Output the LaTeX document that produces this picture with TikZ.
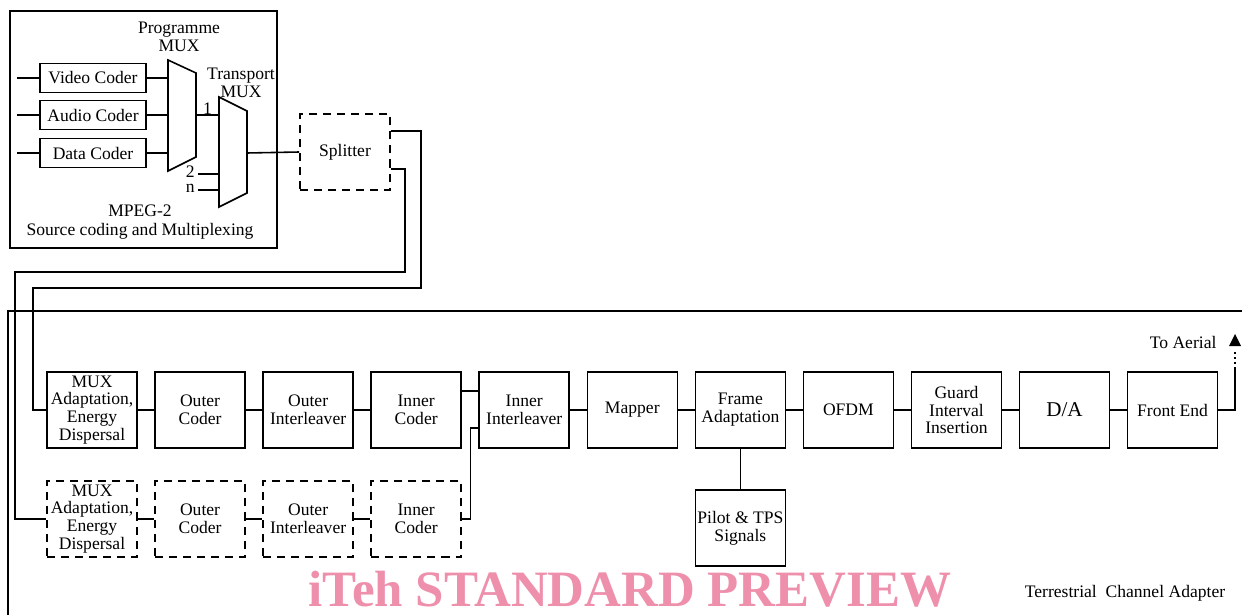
\documentclass[tikz,border=0pt]{standalone}
\usepackage{fontspec}
\setmainfont{Liberation Serif}
\usetikzlibrary{positioning}
\definecolor{WaterPink}{RGB}{238,143,172}

\begin{document}
\begin{tikzpicture}[x=0.02cm, y=-0.02cm, line width=0.9pt, node distance=0.33cm,
    blk/.style={draw, minimum width=1.8cm, minimum height=1.52cm, align=center, inner sep=1pt, font=\fontsize{10}{10.2}\selectfont},
    dblk/.style={blk, dash pattern=on 4.6pt off 3.4pt},
    coder/.style={draw, minimum width=2.12cm, minimum height=0.58cm, inner sep=1pt, font=\fontsize{10}{11}\selectfont},
    lbl/.style={align=center, inner sep=1pt, font=\fontsize{10}{10.5}\selectfont}]
        \useasboundingbox (0,0) rectangle (1242,615);
        % MPEG-2 source coding
        \draw (10,11) rectangle (277,248);
        \node[coder] (vid) at (93,78) {Video Coder};
        \node[coder] (aud) at (93,115) {Audio Coder};
        \node[coder] (dat) at (93,153) {Data Coder};
        \draw (168,60) -- (196,73) -- (196,157) -- (168,171) -- cycle;
        \coordinate (pmux) at (168,115); \coordinate (pout) at (196,115);
        \foreach \c in {vid,aud,dat} {
          \draw (\c.west) -- ++(-22,0);
          \draw (\c.east) -- (\c.east -| pmux);
        }
        \node[lbl] at (179,37) {Programme\\MUX};
        \draw (219,97) -- (247,111) -- (247,193) -- (219,207) -- cycle;
        \coordinate (tin) at (219,115); \coordinate (tout) at (247,153);
        \coordinate (tin2) at (219,174); \coordinate (tinn) at (219,190);
        \node[lbl] at (241,83) {Transport\\MUX};
        \draw (pout) -- (tin) node[midway, above=-1pt, lbl] {1};
        \draw (tin2) -- ++(-21,0);
        \draw (tinn) -- ++(-21,0);
        \node[lbl, inner sep=0.3pt, anchor=base east] (two) at (196,178) {2};
        \node[lbl, inner sep=0.3pt, anchor=base east] (nn) at (196,193) {n};
        \node[lbl] at (140,222) {MPEG-2\\Source coding and Multiplexing};
        \node[dblk] (spl) at (345,152) {Splitter};
        \draw (tout) -- (spl.west);
        % terrestrial channel adapter
        \draw (8,615) -- (8,311) -- (1242,311);
        \node[blk] (muxa) at (92,410) {MUX\\Adaptation,\\Energy\\Dispersal};
        \node[blk, right=of muxa] (oc) {Outer\\Coder};
        \node[blk, right=of oc] (oi) {Outer\\Interleaver};
        \node[blk, right=of oi] (ic) {Inner\\Coder};
        \node[blk, right=of ic] (ii) {Inner\\Interleaver};
        \node[blk, right=of ii] (map) {Mapper};
        \node[blk, right=of map] (fa) {Frame\\Adaptation};
        \node[blk, right=of fa] (ofdm) {OFDM};
        \node[blk, right=of ofdm] (gi) {Guard\\Interval\\Insertion};
        \node[blk, right=of gi, font=\fontsize{12}{13}\selectfont] (da) {D/A};
        \node[blk, right=of da] (fe) {Front End};
        \node[blk, below=0.81cm of fa] (pil) {Pilot \& TPS\\Signals};
        \node[dblk, below=0.63cm of muxa] (muxb) {MUX\\Adaptation,\\Energy\\Dispersal};
        \node[dblk, below=0.63cm of oc] (ocb) {Outer\\Coder};
        \node[dblk, below=0.63cm of oi] (oib) {Outer\\Interleaver};
        \node[dblk, below=0.63cm of ic] (icb) {Inner\\Coder};
        \draw (muxa) -- (oc) -- (oi) -- (ic);
        \draw (muxb) -- (ocb) -- (oib) -- (icb);
        \draw ([yshift=0.38cm]ic.east) -- ([yshift=0.38cm]ii.west);
        \draw (icb.east) -| ([xshift=-0.16cm, yshift=-0.36cm]ii.west) -- ([yshift=-0.36cm]ii.west);
        \draw (ii) -- (map) -- (fa) -- (ofdm) -- (gi) -- (da) -- (fe);
        \draw (fa) -- (pil);
        \draw ([yshift=0.42cm]spl.east) -| (421,288) -- (33,288) |- (muxa.west);
        \draw ([yshift=-0.34cm]spl.east) -| (405,272) -- (15,272) |- (muxb.west);
        % to aerial
        \coordinate (aer) at (1235,369);
        \draw (fe.east) -| (aer);
        \draw[dotted] (aer) -- ++(0,-17);
        \fill (1229,346) -- (1241,346) -- (1235,334) -- cycle;
        \node[lbl, anchor=east] at (1219,342) {To Aerial};
        \node[lbl] at (1125,593) {Terrestrial\enspace Channel Adapter};
        \node[text=WaterPink, font=\fontsize{29}{30}\selectfont\bfseries, inner sep=0pt, anchor=base] at (630,606) {iTeh STANDARD PREVIEW};
      \end{tikzpicture}
\end{document}
